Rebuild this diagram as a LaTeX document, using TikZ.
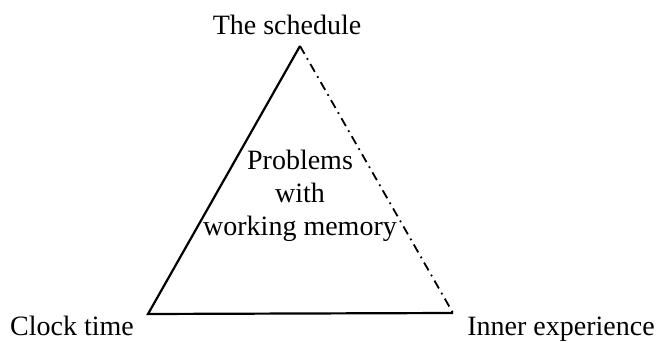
\documentclass[tikz,border=0pt]{standalone}
\usepackage{fontspec}
\setmainfont{Liberation Serif}
\usetikzlibrary{calc}

\begin{document}
\begin{tikzpicture}[x=1pt, y=1pt,
    lbl/.style={inner sep=0pt, font=\fontsize{28}{33}\selectfont},
    side/.style={line width=2.2pt},
    dashdot/.style={line width=1.8pt, dash pattern=on 9pt off 5pt on 1.8pt off 5pt}]
    \useasboundingbox (0,0) rectangle (662,343);
    \coordinate (sched) at (300,297);
    \coordinate (clock) at (148,29);
    \coordinate (inner) at (453,30);
    \draw[side] (inner) -- (clock) -- (sched);
    \draw[dashdot] (sched) -- (inner);
    \node (schedlbl) at (287,308) [lbl, anchor=base] {The schedule};
    \node (clocklbl) at (72,7) [lbl, anchor=base] {Clock time};
    \node (innerlbl) at (561,7) [lbl, anchor=base] {Inner experience};
    \node (wm) at (300,193) [lbl, anchor=north, align=center] {Problems\\with\\working memory};
  \end{tikzpicture}
\end{document}
